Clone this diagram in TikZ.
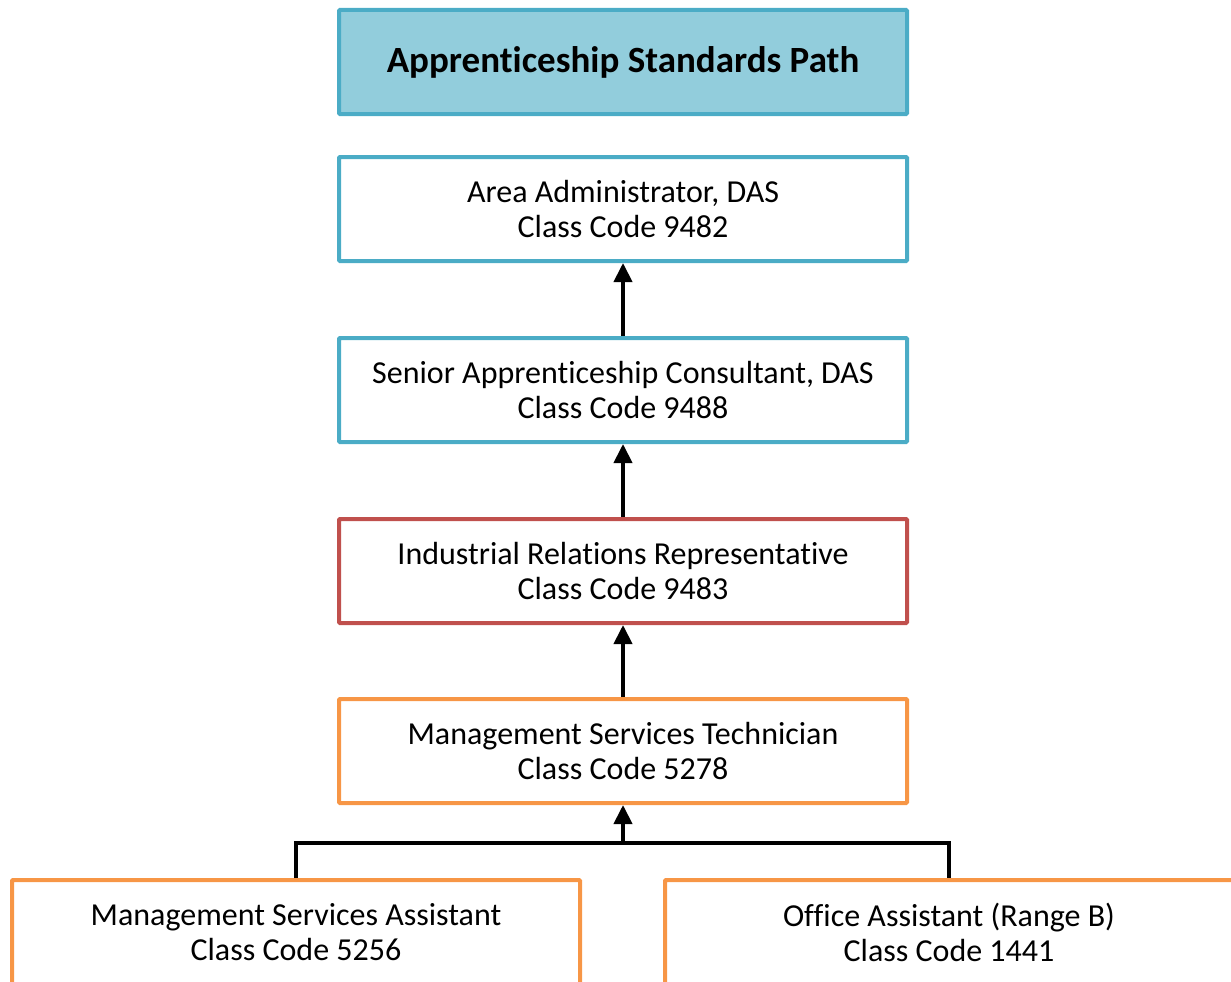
\documentclass[tikz,border=0pt]{standalone}
\usepackage{fontspec}
\setmainfont{Carlito}[Ligatures={NoCommon}]
\usetikzlibrary{arrows.meta}
\definecolor{tblue}{HTML}{4BACC6}
\definecolor{tfill}{HTML}{92CDDC}
\definecolor{tred}{HTML}{C0504D}
\definecolor{torange}{HTML}{F79646}
\tikzset{
  box/.style={draw, line width=4pt, minimum width=568pt, minimum height=104pt, align=center, inner sep=0pt, font=\fontsize{32}{35}\selectfont, rounded corners=1pt},
  bluebox/.style={box, draw=tblue},
  redbox/.style={box, draw=tred},
  orangebox/.style={box, draw=torange},
  arr/.style={line width=4pt, -{Triangle[length=19pt,width=18pt]}},
  conn/.style={line width=4.5pt}
}
\begin{document}
\begin{tikzpicture}[x=1pt,y=-1pt]
\useasboundingbox (0,0) rectangle (1231,982);
\begin{scope}
\clip (0,0) rectangle (1231,982);
\node[bluebox, fill=tfill, font=\fontsize{37}{42}\selectfont\bfseries] (t) at (623,62) {Apprenticeship Standards Path};
\node[bluebox] (b1) at (623,209) {Area Administrator, DAS\\Class Code 9482};
\node[bluebox] (b2) at (623,390) {Senior Apprenticeship Consultant, DAS\\Class Code 9488};
\node[redbox] (b3) at (623,571) {Industrial Relations Representative\\Class Code 9483};
\node[orangebox] (b4) at (623,751) {Management Services Technician\\Class Code 5278};
\node[orangebox] (bl) at (296,932) {Management Services Assistant\\Class Code 5256};
\node[orangebox] (br) at (949,932) {Office Assistant (Range B)\\Class Code 1441};
\coordinate (j) at (623,843);
\draw[arr] (b2.north) -- (b1.south);
\draw[arr] (b3.north) -- (b2.south);
\draw[arr] (b4.north) -- (b3.south);
\draw[conn] (bl.north) |- (j) -| (br.north);
\draw[arr] (j) -- (b4.south);
\end{scope}
\end{tikzpicture}
\end{document}
